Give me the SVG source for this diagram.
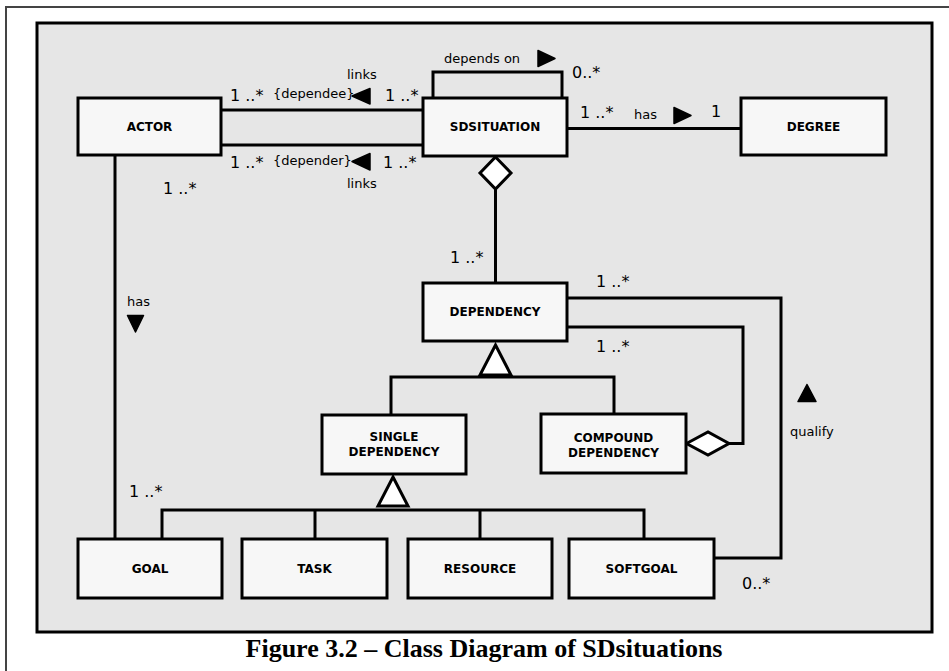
<svg xmlns="http://www.w3.org/2000/svg" width="949" height="671" viewBox="0 0 949 671">
<style>
.frame{fill:#e6e6e6;stroke:#000;stroke-width:3}
.node rect{fill:#f7f7f7;stroke:#000;stroke-width:3}
.node text{font-family:"DejaVu Sans",sans-serif;font-weight:bold;font-size:12px;text-anchor:middle;fill:#000}
.ln{fill:none;stroke:#000;stroke-width:3;stroke-linejoin:miter}
.hollow{fill:#fff;stroke:#000;stroke-width:3;stroke-linejoin:miter}
.dir{fill:#000;stroke:#000;stroke-width:1.5;stroke-linejoin:round}
.lbl{font-family:"DejaVu Sans",sans-serif;font-size:13px;fill:#000}
.mul{font-family:"DejaVu Sans",sans-serif;font-size:16px;fill:#000}
.cap{font-family:"Liberation Serif",serif;font-weight:bold;font-size:26px;text-anchor:middle;fill:#000}
</style>
<rect width="949" height="671" fill="#fff"/>
<path d="M6,671 V7 H949" fill="none" stroke="#444" stroke-width="2"/>
<rect class="frame" x="37" y="23" width="895" height="609"/>

<g id="connectors">
  <line class="ln" x1="221" y1="110" x2="423" y2="110"/>
  <line class="ln" x1="221" y1="145" x2="423" y2="145"/>
  <path class="ln" d="M433,98 V72 H562 V98"/>
  <line class="ln" x1="567" y1="128.5" x2="741" y2="128.5"/>
  <line class="ln" x1="495.5" y1="189" x2="495.5" y2="283"/>
  <polygon class="hollow" points="495.5,157 511,173 495.5,189 480,173"/>
  <line class="ln" x1="115" y1="155" x2="115" y2="539"/>
  <path class="ln" d="M391,415 V377 H614 V414"/>
  <polygon class="hollow" points="495.5,345 511,375 480,375"/>
  <path class="ln" d="M162,539 V510 H644 V539"/>
  <line class="ln" x1="315" y1="510" x2="315" y2="539"/>
  <line class="ln" x1="480" y1="510" x2="480" y2="539"/>
  <polygon class="hollow" points="393,477 408,506 378,506"/>
  <path class="ln" d="M567,298 H781 V558 H714"/>
  <path class="ln" d="M567,327 H743 V443.5 H729"/>
  <polygon class="hollow" points="686.5,443.5 708,432 729,443.5 708,455"/>
</g>

<g id="labels">
  <text class="lbl" x="347" y="79">links</text>
  <text class="mul" x="230" y="101">1 ..*</text>
  <text class="lbl" x="273" y="98" font-size="12">{dependee}</text>
  <polygon class="dir" points="352,96 370,88.5 370,104"/>
  <text class="mul" x="385" y="101">1 ..*</text>
  <text class="mul" x="230" y="168">1 ..*</text>
  <text class="lbl" x="273" y="165" font-size="12">{depender}</text>
  <polygon class="dir" points="352,161.5 370,153.5 370,170"/>
  <text class="mul" x="383" y="168">1 ..*</text>
  <text class="lbl" x="347" y="188">links</text>
  <text class="mul" x="163" y="194">1 ..*</text>
  <text class="lbl" x="444" y="63">depends on</text>
  <polygon class="dir" points="538,50.5 555,58.5 538,66.5"/>
  <text class="mul" x="572" y="78">0..*</text>
  <text class="mul" x="580" y="118">1 ..*</text>
  <text class="lbl" x="634" y="119">has</text>
  <polygon class="dir" points="674,107.5 691,115.5 674,123.5"/>
  <text class="mul" x="711" y="117">1</text>
  <text class="lbl" x="127" y="306">has</text>
  <polygon class="dir" points="127.5,315.5 143.5,315.5 135.5,332"/>
  <text class="mul" x="450" y="263">1 ..*</text>
  <text class="mul" x="596" y="287">1 ..*</text>
  <text class="mul" x="596" y="352">1 ..*</text>
  <polygon class="dir" points="798,401.5 816,401.5 807,384.5"/>
  <text class="lbl" x="790" y="436">qualify</text>
  <text class="mul" x="129" y="497">1 ..*</text>
  <text class="mul" x="742" y="589">0..*</text>
</g>

<g id="actor" class="node"><rect x="78" y="98" width="143" height="57"/><text x="149.5" y="131">ACTOR</text></g>
<g id="sdsituation" class="node"><rect x="423" y="98" width="144" height="58"/><text x="495" y="131">SDSITUATION</text></g>
<g id="degree" class="node"><rect x="741" y="98" width="145" height="57"/><text x="813.5" y="131">DEGREE</text></g>
<g id="dependency" class="node"><rect x="423" y="283" width="144" height="58"/><text x="495" y="316">DEPENDENCY</text></g>
<g id="single-dependency" class="node"><rect x="322" y="415" width="144" height="59"/><text x="394" y="441">SINGLE</text><text x="394" y="456">DEPENDENCY</text></g>
<g id="compound-dependency" class="node"><rect x="541" y="414" width="145" height="59"/><text x="613.5" y="442">COMPOUND</text><text x="613.5" y="457">DEPENDENCY</text></g>
<g id="goal" class="node"><rect x="78" y="539" width="144" height="59"/><text x="150" y="573">GOAL</text></g>
<g id="task" class="node"><rect x="242" y="539" width="145" height="59"/><text x="314.5" y="573">TASK</text></g>
<g id="resource" class="node"><rect x="408" y="539" width="144" height="59"/><text x="480" y="573">RESOURCE</text></g>
<g id="softgoal" class="node"><rect x="569" y="539" width="145" height="59"/><text x="641.5" y="573">SOFTGOAL</text></g>

<text class="cap" x="484" y="657">Figure 3.2 – Class Diagram of SDsituations</text>
</svg>
